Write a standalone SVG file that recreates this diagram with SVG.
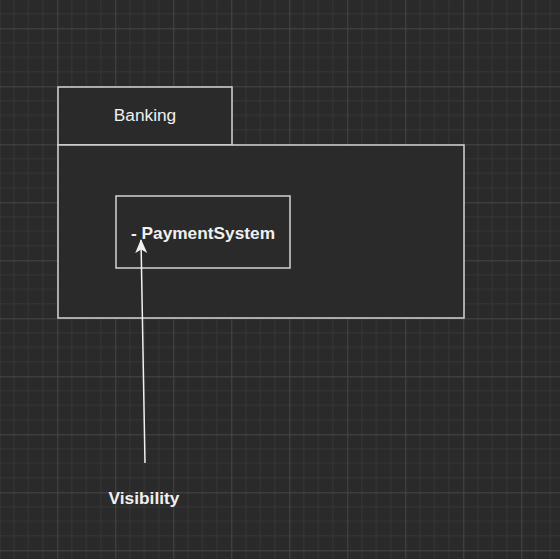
<svg xmlns="http://www.w3.org/2000/svg" width="560" height="559" viewBox="0 0 560 559">
<style>
.shape{fill:#2a2a2a;stroke:#d4d4d4;stroke-width:1.5}
.lbl{font-family:"Liberation Sans",Arial,sans-serif;font-size:17.3px;fill:#f0f0f0;text-anchor:middle}
.b{font-weight:bold}
.conn{stroke:#f0f0f0;stroke-width:1.5;fill:none}
</style>
<defs>
<pattern id="grid" patternUnits="userSpaceOnUse" x="-0.7" y="-29.7" width="58" height="58">
<rect width="58" height="58" fill="#2a2a2a"/>
<path d="M14.5 0V58M29 0V58M43.5 0V58M0 14.5H58M0 29H58M0 43.5H58" stroke="#363636" stroke-width="1"/>
<path d="M0.5 0V58M0 0.5H58" stroke="#464646" stroke-width="1"/>
</pattern>
<marker id="arr" viewBox="0 0 14 14" refX="13" refY="7" markerWidth="14" markerHeight="14" markerUnits="userSpaceOnUse" orient="auto">
<path d="M0 1L14 7L0 13L3.5 7Z" fill="#f0f0f0"/>
</marker>
</defs>
<rect width="560" height="559" fill="url(#grid)"/>
<g id="banking">
<rect class="shape" x="58" y="87" width="174" height="58"/>
<rect class="shape" x="58" y="145" width="406" height="173"/>
<text class="lbl" x="145" y="121">Banking</text>
</g>
<g id="payment">
<rect class="shape" x="116" y="196" width="174" height="72"/>
<text class="lbl b" x="203" y="239">- PaymentSystem</text>
</g>
<g id="visibility">
<text class="lbl b" x="144" y="504">Visibility</text>
</g>
<g id="connectors">
<path class="conn" d="M145 463L141 240" marker-end="url(#arr)"/>
</g>
</svg>
